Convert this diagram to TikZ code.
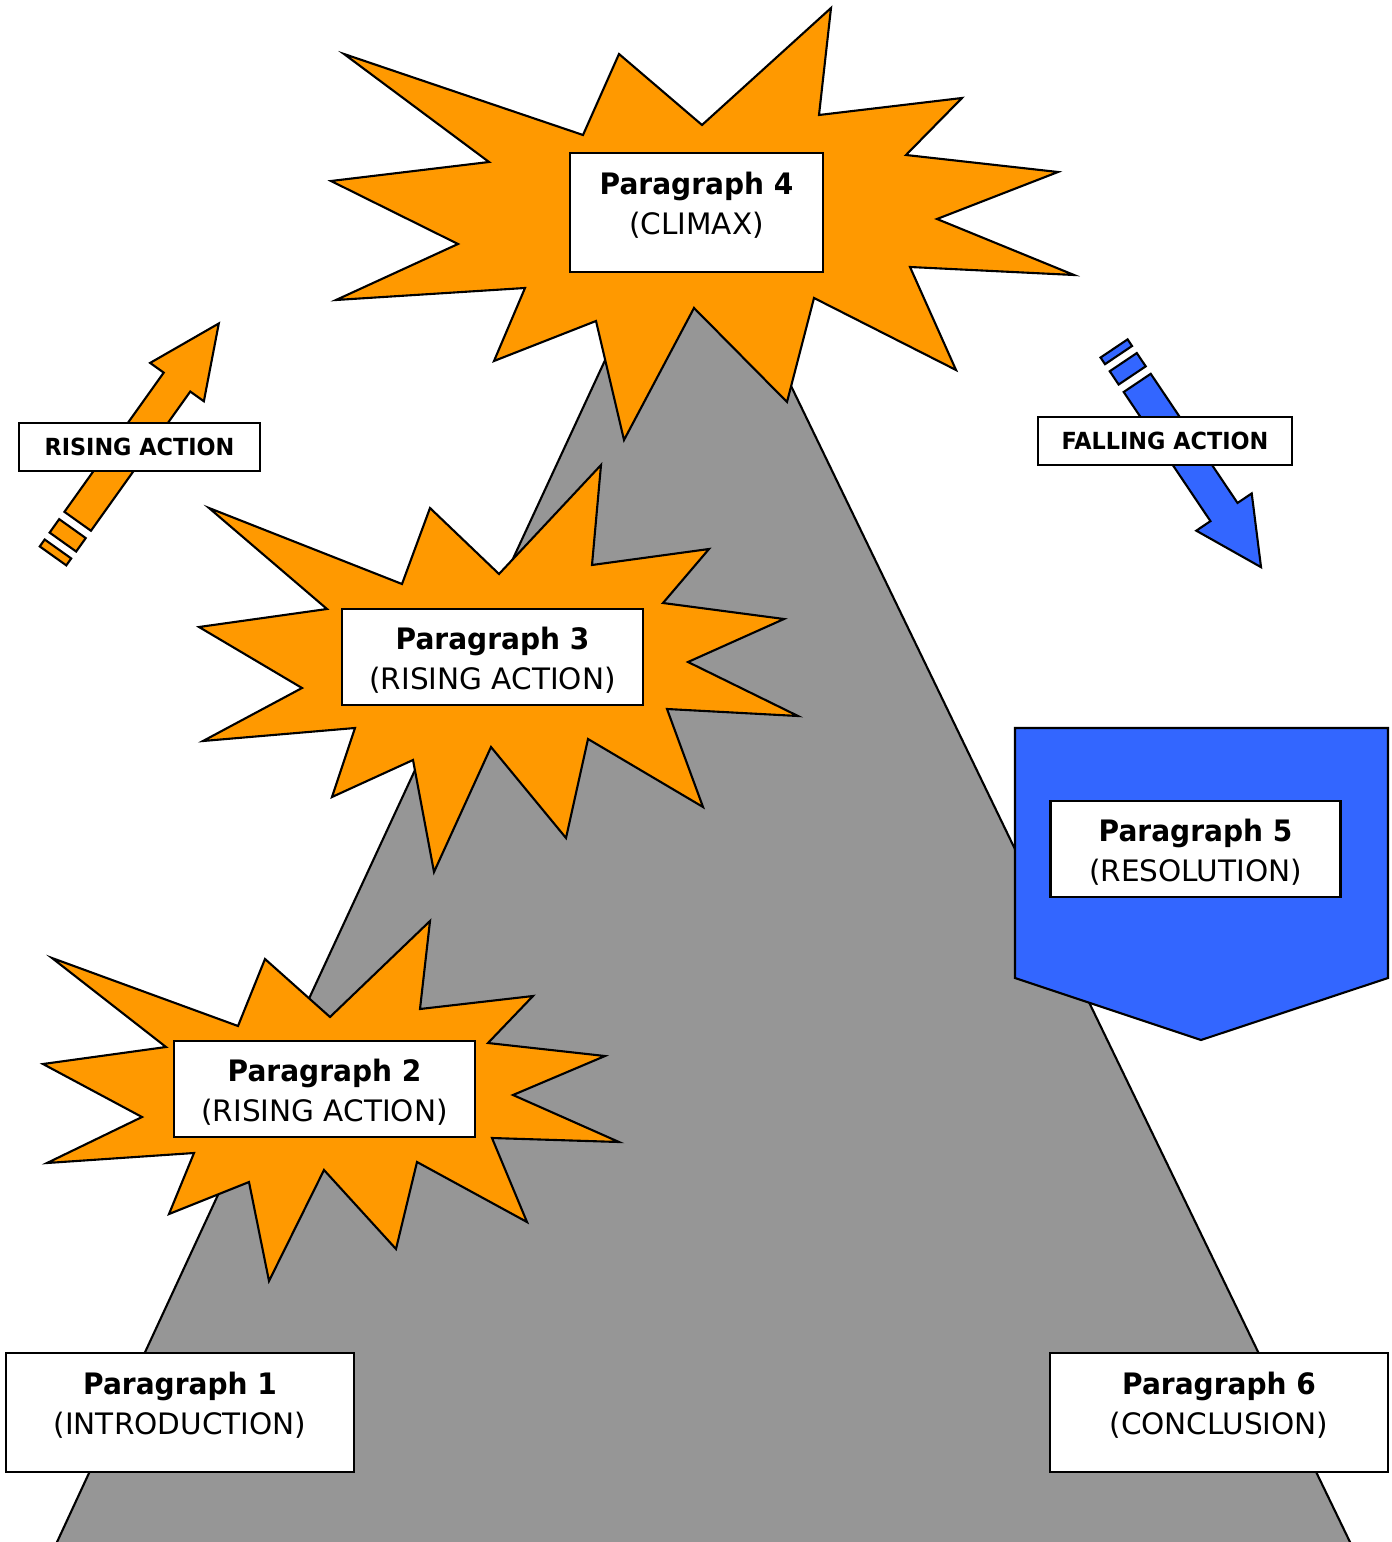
\documentclass[tikz,border=0pt]{standalone}
\usepackage{fontspec}
\setmainfont{DejaVu Sans}[BoldFeatures={FakeStretch=0.95}]
\definecolor{starorange}{HTML}{FF9900}
\definecolor{shieldblue}{HTML}{3366FF}
\definecolor{hillgray}{HTML}{969696}
\tikzset{
  burst/.style={draw, line width=0.6pt, fill=starorange},
  parbox/.style={draw, fill=white, line width=0.6pt, align=center, inner sep=0pt,
    font=\fontsize{8.4}{11.3}\selectfont},
  tallbox/.style={parbox, minimum height=1.19cm, text depth=0.19cm},
  shortbox/.style={parbox, minimum height=0.96cm, text height=0.68cm},
  actionlabel/.style={draw, fill=white, line width=0.6pt, inner sep=0pt,
    minimum height=0.48cm, font=\fontsize{6.7}{8}\selectfont\bfseries},
}
\begin{document}
\begin{tikzpicture}
\useasboundingbox (0,0) rectangle (13.92,-15.42);

\path[draw, line width=0.6pt, fill=hillgray] (0.524,-15.52) -- (6.90,-1.77) -- (13.548,-15.52) -- cycle;

\path[burst] (3.44,-0.54) -- (5.83,-1.35) -- (6.19,-0.54) -- (7.02,-1.25) -- (8.31,-0.08) -- (8.19,-1.15) -- (9.62,-0.98) -- (9.06,-1.55) -- (10.58,-1.72) -- (9.37,-2.19) -- (10.74,-2.75) -- (9.10,-2.67) -- (9.56,-3.70) -- (8.14,-2.98) -- (7.87,-4.02) -- (6.94,-3.08) -- (6.24,-4.40) -- (5.96,-3.21) -- (4.94,-3.61) -- (5.25,-2.88) -- (3.36,-3.00) -- (4.58,-2.44) -- (3.31,-1.81) -- (4.89,-1.62) -- cycle;
\path[burst] (2.09,-5.08) -- (4.02,-5.84) -- (4.30,-5.08) -- (4.99,-5.74) -- (6.01,-4.65) -- (5.92,-5.65) -- (7.09,-5.49) -- (6.63,-6.03) -- (7.84,-6.19) -- (6.88,-6.62) -- (7.98,-7.16) -- (6.67,-7.09) -- (7.03,-8.07) -- (5.88,-7.39) -- (5.66,-8.38) -- (4.91,-7.47) -- (4.34,-8.72) -- (4.13,-7.60) -- (3.32,-7.97) -- (3.55,-7.28) -- (2.03,-7.41) -- (3.02,-6.88) -- (1.99,-6.27) -- (3.27,-6.09) -- cycle;
\path[burst] (0.52,-9.58) -- (2.38,-10.26) -- (2.65,-9.59) -- (3.30,-10.17) -- (4.30,-9.21) -- (4.20,-10.09) -- (5.33,-9.96) -- (4.88,-10.43) -- (6.05,-10.56) -- (5.13,-10.95) -- (6.19,-11.42) -- (4.92,-11.38) -- (5.27,-12.22) -- (4.17,-11.62) -- (3.96,-12.49) -- (3.24,-11.70) -- (2.69,-12.81) -- (2.49,-11.82) -- (1.69,-12.14) -- (1.94,-11.53) -- (0.47,-11.63) -- (1.42,-11.17) -- (0.43,-10.64) -- (1.66,-10.47) -- cycle;

\path[draw, line width=0.6pt, fill=shieldblue] (10.15,-7.28) -- (13.88,-7.28) -- (13.88,-9.78) -- (12.01,-10.40) -- (10.15,-9.78) -- cycle;

\begin{scope}[shift={(0.777,-5.213)}, rotate=54.5]
\path[draw, line width=0.6pt, fill=starorange] (0,-0.163) -- (1.71,-0.163) -- (1.71,-0.33) -- (2.43,0) -- (1.71,0.33) -- (1.71,0.163) -- (0,0.163) -- cycle;
\path[draw, line width=0.6pt, fill=starorange] (-0.09,-0.163) rectangle (-0.255,0.163);
\path[draw, line width=0.6pt, fill=starorange] (-0.34,-0.163) rectangle (-0.425,0.163);
\end{scope}
\begin{scope}[shift={(11.372,-3.829)}, rotate=-56.1]
\path[draw, line width=0.6pt, fill=shieldblue] (0,-0.163) -- (1.556,-0.163) -- (1.556,-0.334) -- (2.22,0) -- (1.556,0.334) -- (1.556,0.163) -- (0,0.163) -- cycle;
\path[draw, line width=0.6pt, fill=shieldblue] (-0.09,-0.163) rectangle (-0.25,0.163);
\path[draw, line width=0.6pt, fill=shieldblue] (-0.335,-0.163) rectangle (-0.415,0.163);
\end{scope}

\node[actionlabel, minimum width=2.41cm] (rising) at (1.395,-4.47) {RISING ACTION};
\node[actionlabel, minimum width=2.54cm] (falling) at (11.65,-4.41) {FALLING ACTION};

\node[tallbox, minimum width=2.53cm] (p4) at (6.965,-2.125) {\textbf{Paragraph 4}\\(CLIMAX)};
\node[shortbox, minimum width=3.01cm] (p3) at (4.925,-6.57) {\textbf{Paragraph 3}\\(RISING ACTION)};
\node[shortbox, minimum width=3.01cm] (p2) at (3.245,-10.89) {\textbf{Paragraph 2}\\(RISING ACTION)};
\node[shortbox, minimum width=2.90cm] (p5) at (11.955,-8.49) {\textbf{Paragraph 5}\\(RESOLUTION)};
\node[tallbox, minimum width=3.48cm] (p1) at (1.80,-14.125) {\textbf{Paragraph 1}\\(INTRODUCTION)};
\node[tallbox, minimum width=3.38cm] (p6) at (12.19,-14.125) {\textbf{Paragraph 6}\\(CONCLUSION)};
\end{tikzpicture}
\end{document}
